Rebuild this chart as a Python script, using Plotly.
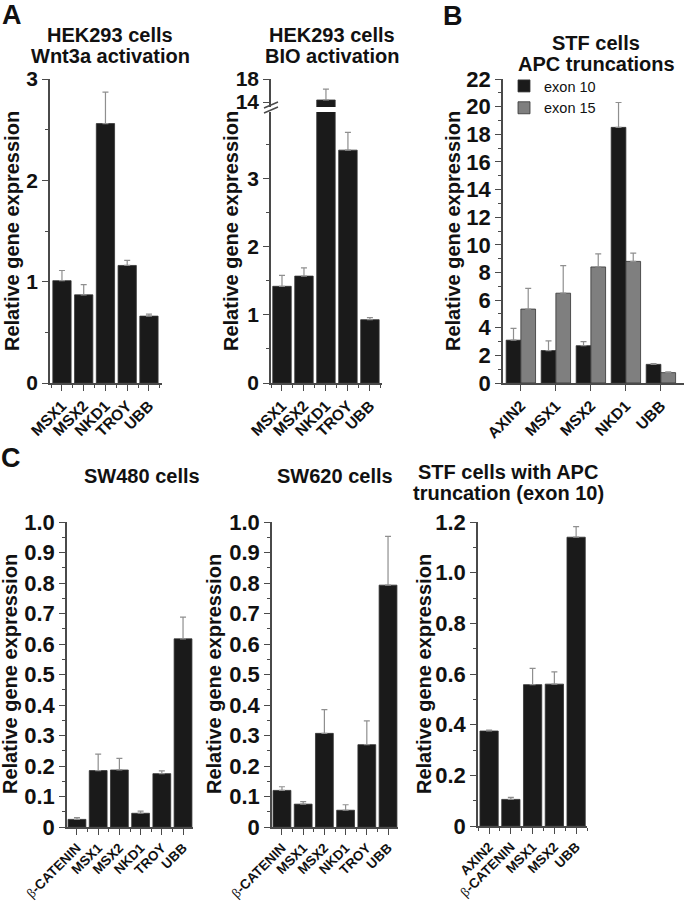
import plotly.graph_objects as go

# ---------------- data ----------------
a1_cats = ["MSX1", "MSX2", "NKD1", "TROY", "UBB"]
a1_vals = [1.01, 0.87, 2.56, 1.16, 0.66]
a1_err = [0.10, 0.10, 0.31, 0.05, 0.02]

a2_cats = ["MSX1", "MSX2", "NKD1", "TROY", "UBB"]
a2_vals = [1.42, 1.57, 14.35, 3.42, 0.93]
a2_err = [0.16, 0.12, 1.90, 0.26, 0.03]

b_cats = ["AXIN2", "MSX1", "MSX2", "NKD1", "UBB"]
b_exon10 = [3.10, 2.35, 2.70, 18.5, 1.35]
b_exon10_err = [0.85, 0.70, 0.30, 1.80, 0.05]
b_exon15 = [5.35, 6.50, 8.40, 8.80, 0.75]
b_exon15_err = [1.50, 2.00, 0.95, 0.60, 0.05]

c1_cats = ["β-CATENIN", "MSX1", "MSX2", "NKD1", "TROY", "UBB"]
c1_vals = [0.025, 0.185, 0.187, 0.045, 0.175, 0.617]
c1_err = [0.006, 0.054, 0.038, 0.007, 0.009, 0.071]

c2_cats = ["β-CATENIN", "MSX1", "MSX2", "NKD1", "TROY", "UBB"]
c2_vals = [0.120, 0.075, 0.307, 0.055, 0.270, 0.793]
c2_err = [0.012, 0.008, 0.078, 0.018, 0.078, 0.160]

c3_cats = ["AXIN2", "β-CATENIN", "MSX1", "MSX2", "UBB"]
c3_vals = [0.375, 0.105, 0.558, 0.560, 1.140]
c3_err = [0.004, 0.008, 0.064, 0.048, 0.042]

c12_ticks = [0, 0.1, 0.2, 0.3, 0.4, 0.5, 0.6, 0.7, 0.8, 0.9, 1.0]
c12_ticktext = ["0", "0.1", "0.2", "0.3", "0.4", "0.5", "0.6", "0.7", "0.8", "0.9", "1.0"]
c3_ticks = [0, 0.2, 0.4, 0.6, 0.8, 1.0, 1.2]
c3_ticktext = ["0", "0.2", "0.4", "0.6", "0.8", "1.0", "1.2"]

# ---------------- style ----------------
W, H = 685, 903
FONT = "Liberation Sans, Arial, Helvetica, sans-serif"
BLACK = "#1a1a1a"
GREY = "#7f7f7f"
AX = "#4a4a4a"


def px_x(p):
    return p / W


def px_y(p):
    return 1 - p / H


def fmt(c):
    if c.startswith("β"):
        return "<span style='font-family:Liberation Serif;font-weight:normal'>β</span>" + c[1:]
    return c


def err(arr):
    return dict(type="data", symmetric=False, array=arr, arrayminus=[0] * len(arr),
                color="#8f8f8f", thickness=1.2, width=3)


fig = go.Figure()


def add_bar(xa, ya, cats, vals, errs, color=BLACK, name=None, show=False):
    fig.add_trace(go.Bar(
        x=list(range(len(cats))), y=vals, xaxis=xa, yaxis=ya,
        marker=dict(color=color, line=dict(color="#333333", width=0.8)),
        error_y=err(errs), name=name, showlegend=show))


add_bar("x", "y", a1_cats, a1_vals, a1_err)
add_bar("x2", "y2", a2_cats, a2_vals, a2_err)
add_bar("x2", "y3", a2_cats, a2_vals, a2_err)
fig.add_trace(go.Bar(x=list(range(len(b_cats))), y=b_exon10, xaxis="x4", yaxis="y4",
                     marker=dict(color=BLACK, line=dict(color="#333333", width=0.8)),
                     error_y=err(b_exon10_err), name="exon 10", showlegend=True))
fig.add_trace(go.Bar(x=list(range(len(b_cats))), y=b_exon15, xaxis="x4", yaxis="y4",
                     marker=dict(color=GREY, line=dict(color="#333333", width=0.8)),
                     error_y=err(b_exon15_err), name="exon 15", showlegend=True))
add_bar("x5", "y5", c1_cats, c1_vals, c1_err)
add_bar("x6", "y6", c2_cats, c2_vals, c2_err)
add_bar("x7", "y7", c3_cats, c3_vals, c3_err)


def xaxis(domain, rng, cats, anchor, minor=True, size=15):
    d = dict(domain=[px_x(domain[0]), px_x(domain[1])], range=rng, anchor=anchor,
             tickvals=list(range(len(cats))), ticktext=[fmt(c) for c in cats],
             tickangle=-45, showline=True, linecolor=AX, linewidth=1.5,
             ticks="outside", ticklen=6, tickwidth=1.2, tickcolor=AX,
             showgrid=False, zeroline=False, automargin=False,
             tickfont=dict(family=FONT, size=size, color="#111", weight="bold"))
    if minor:
        d["minor"] = dict(tick0=0.5, dtick=1, ticklen=3, tickcolor=AX, showgrid=False, ticks="outside")
    return d


def yaxis(domain, rng, anchor, size, dtick=None, minor_dtick=None, tickvals=None, ticktext=None):
    d = dict(domain=[px_y(domain[1]), px_y(domain[0])], range=rng, anchor=anchor,
             showline=True, linecolor=AX, linewidth=1.5,
             ticks="outside", ticklen=6, tickwidth=1.2, tickcolor=AX,
             showgrid=False, zeroline=False, automargin=False,
             tickfont=dict(family=FONT, size=size, color="#111", weight="bold"))
    if dtick is not None:
        d["dtick"] = dtick
        d["tick0"] = 0
    if tickvals is not None:
        d["tickvals"] = tickvals
        d["ticktext"] = ticktext
    if minor_dtick is not None:
        d["minor"] = dict(tick0=0, dtick=minor_dtick, ticklen=3, tickcolor=AX, showgrid=False, ticks="outside")
    return d


layout = dict(
    template="none",
    width=W, height=H, autosize=False,
    margin=dict(l=0, r=0, t=0, b=0, pad=0),
    paper_bgcolor="white", plot_bgcolor="white",
    bargap=0.16, bargroupgap=0,
    barmode="group",
    font=dict(family=FONT, color="#111"),
    xaxis=xaxis((50, 162), [-0.55, 4.6], a1_cats, "y", size=15.5),
    yaxis=yaxis((79, 383), [0, 3], "x", 21, dtick=1, minor_dtick=0.5),
    xaxis2=xaxis((271, 382), [-0.5, 4.55], a2_cats, "y2", size=15.5),
    yaxis2=yaxis((112, 383), [0, 3.98], "x2", 21, dtick=1, minor_dtick=0.5),
    yaxis3=yaxis((79, 107), [13.13, 18], "x2", 21, tickvals=[14, 18], ticktext=["14", "18"]),
    xaxis4=xaxis((503, 684), [-0.51, 4.66], b_cats, "y4", minor=False, size=15.5),
    yaxis4=yaxis((79, 383), [0, 22], "x4", 22, dtick=2, minor_dtick=1),
    xaxis5=xaxis((67, 193), [-0.47, 5.47], c1_cats, "y5", size=13.5),
    yaxis5=yaxis((522, 827), [0, 1], "x5", 22, tickvals=c12_ticks, ticktext=c12_ticktext, minor_dtick=0.05),
    xaxis6=xaxis((272, 398), [-0.47, 5.47], c2_cats, "y6", size=13.5),
    yaxis6=yaxis((522, 827), [0, 1], "x6", 22, tickvals=c12_ticks, ticktext=c12_ticktext, minor_dtick=0.05),
    xaxis7=xaxis((478, 587), [-0.51, 4.5], c3_cats, "y7", size=13.5),
    yaxis7=yaxis((522, 826), [0, 1.2], "x7", 22, tickvals=c3_ticks, ticktext=c3_ticktext, minor_dtick=0.1),
    legend=dict(x=px_x(504), y=px_y(70), xanchor="left", yanchor="top",
                bgcolor="rgba(0,0,0,0)", font=dict(family=FONT, size=14.5, color="#111"),
                itemwidth=30, tracegroupgap=0),
)
fig.update_layout(**layout)

ann = []


def text(x, y, s, size=20, angle=0, bold=True):
    ann.append(dict(x=px_x(x), y=px_y(y), xref="paper", yref="paper", text=s, showarrow=False,
                    xanchor="center", yanchor="middle", textangle=angle,
                    font=dict(family=FONT, size=size, color="#111", weight="bold" if bold else "normal")))


# panel letters
text(12, 15, "A", 27)
text(453, 16, "B", 27)
text(11, 458, "C", 27)
# titles
text(110, 35, "HEK293 cells")
text(110, 56, "Wnt3a activation")
text(332, 35, "HEK293 cells")
text(332, 56, "BIO activation")
text(596, 43, "STF cells")
text(596, 64, "APC truncations")
text(142, 476, "SW480 cells")
text(335, 476, "SW620 cells")
text(508, 472, "STF cells with APC")
text(508, 493, "truncation (exon 10)")
# y titles
YT = "Relative gene expression"
text(12, 231, YT, angle=-90)
text(231, 231, YT, angle=-90)
text(453, 231, YT, angle=-90)
text(10, 674, YT, angle=-90)
text(214, 674, YT, angle=-90)
text(424, 674, YT, angle=-90)
fig.update_layout(annotations=ann)

# axis break marks
shapes = []
for dy in (0, 5):
    shapes.append(dict(type="line", xref="paper", yref="paper",
                       x0=px_x(264), y0=px_y(108 + dy), x1=px_x(278), y1=px_y(102 + dy),
                       line=dict(color=AX, width=1.5)))
fig.update_layout(shapes=shapes)

fig.write_html("out.html", config={"displayModeBar": False},
               post_script="document.body.style.margin='0px';document.body.style.overflow='hidden';")
